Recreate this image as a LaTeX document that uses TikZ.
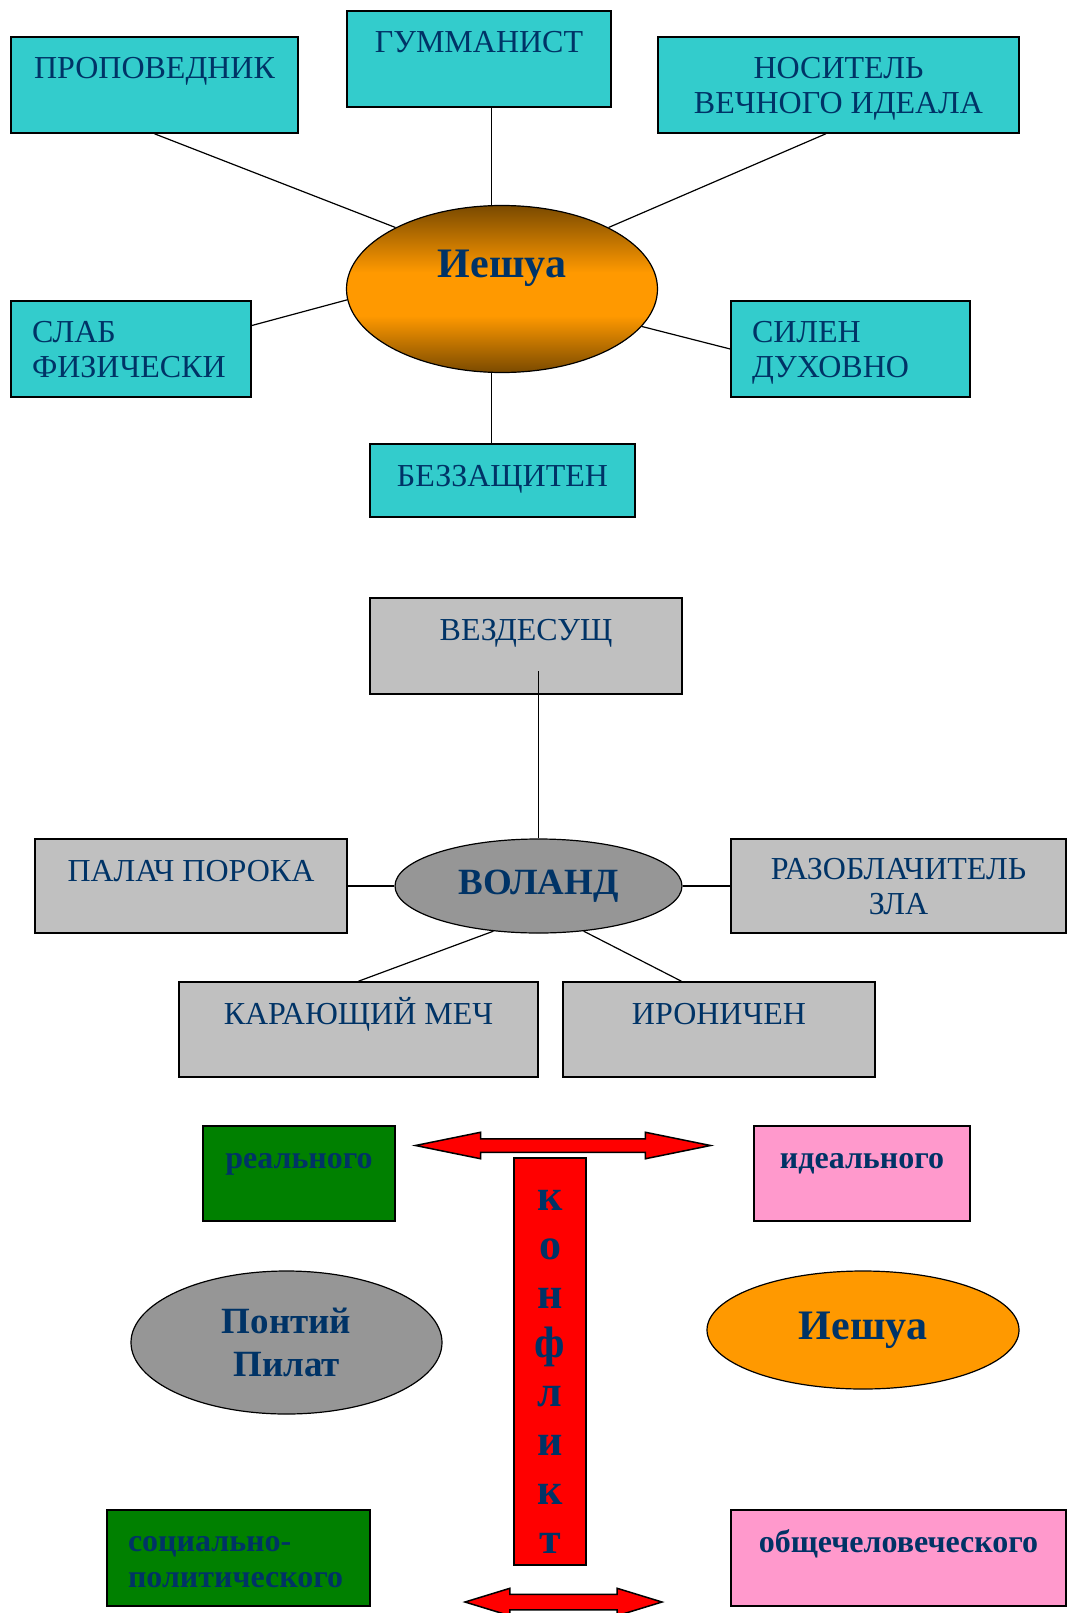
\documentclass[tikz,border=0pt]{standalone}
\usepackage{fontspec}
\setmainfont{Liberation Serif}
\definecolor{ink}{RGB}{0,51,102}
\definecolor{tealfill}{RGB}{51,204,204}
\definecolor{greybox}{RGB}{192,192,192}
\definecolor{greyoval}{RGB}{150,150,150}
\definecolor{sunorange}{RGB}{255,153,0}
\definecolor{sunbrown}{RGB}{122,74,0}
\definecolor{leafgreen}{RGB}{0,128,0}
\definecolor{rosepink}{RGB}{255,153,204}
\usetikzlibrary{calc, shapes.geometric, shapes.arrows}
\pgfdeclareverticalshading{sunband}{100bp}{color(0bp)=(sunbrown); color(25bp)=(sunbrown);
  color(42bp)=(sunorange); color(55bp)=(sunorange); color(75bp)=(sunbrown); color(100bp)=(sunbrown)}
\tikzset{
  card/.style={draw, line width=1.6pt, fill=#1, text=ink, inner sep=0pt, align=center,
    font=\fontsize{32}{35}\selectfont},
  boldcard/.style={card=#1, font=\bfseries\fontsize{32}{36}\selectfont},
  oneline/.style={text height=42pt, text depth=#1},
  leftcard/.style={align=left, text width=#1},
  oval/.style={draw, ellipse, line width=1.2pt, fill=#1, text=ink, inner sep=0pt, align=center,
    font=\bfseries\fontsize{37}{43}\selectfont},
  spoke/.style={line width=1.2pt},
  clash/.style={double arrow, draw, line width=1.5pt, fill=red, inner xsep=0pt}
}

\begin{document}
\begin{tikzpicture}[x=1pt, y=-1pt]
  \useasboundingbox (0,0) rectangle (1067,1613);

  % --- Иешуа
  \node[oval=sunorange, shade, shading=sunband,
    minimum width=311pt, minimum height=167pt, font=\bfseries\fontsize{42}{48}\selectfont,
    text height=30pt, text depth=54pt] (yesh) at (502,289) {Иешуа};
  \node[card=tealfill, oneline=54pt, minimum width=287pt] (prop) at (154.5,85) {ПРОПОВЕДНИК};
  \node[card=tealfill, oneline=54pt, minimum width=264pt] (gum) at (479,59) {ГУММАНИСТ};
  \node[card=tealfill, minimum width=361pt, minimum height=96pt, text depth=0pt] (nos) at (838.5,85) {НОСИТЕЛЬ\\ВЕЧНОГО ИДЕАЛА};
  \node[card=tealfill, leftcard=198pt, inner xsep=21pt, minimum height=96pt, text depth=35pt] (weak) at (131,349) {СЛАБ\\ФИЗИЧЕСКИ};
  \node[card=tealfill, leftcard=197pt, inner xsep=21pt, minimum height=96pt, text depth=35pt] (strong) at (850.5,349) {СИЛЕН\\ДУХОВНО};
  \node[card=tealfill, oneline=31pt, minimum width=265pt] (bez) at (502.5,480.5) {БЕЗЗАЩИТЕН};
  \draw[spoke] (prop.south) -- (yesh.150);
  \draw[spoke] (yesh.97) -- (yesh.97 |- gum.south);
  \draw[spoke] ($(nos.south west)!0.465!(nos.south east)$) -- (yesh.30);
  \draw[spoke] (weak.11) -- (yesh.184);
  \draw[spoke] (strong.west) -- (yesh.-15);
  \draw[spoke] (yesh.263) -- (yesh.263 |- bez.north);

  % --- Воланд
  \node[oval=greyoval, minimum width=287pt, minimum height=94pt] (vol) at (538.5,886) {ВОЛАНД};
  \node[card=greybox, oneline=54pt, minimum width=312pt] (vez) at (526,646) {ВЕЗДЕСУЩ};
  \node[card=greybox, oneline=52pt, minimum width=312pt] (pal) at (191,886) {ПАЛАЧ ПОРОКА};
  \node[card=greybox, minimum width=335pt, minimum height=94pt, text depth=0pt] (razo) at (898.5,886) {РАЗОБЛАЧИТЕЛЬ\\ЗЛА};
  \node[card=greybox, oneline=53pt, minimum width=359pt] (mech) at (358.5,1029.5) {КАРАЮЩИЙ МЕЧ};
  \node[card=greybox, oneline=53pt, minimum width=312pt] (iron) at (719,1029.5) {ИРОНИЧЕН};
  \draw[spoke] (vol.north) -- ($(vez.south -| vol.north)+(0,-24)$);
  \draw[spoke] (pal.east) -- (vol.west);
  \draw[spoke] (vol.east) -- (razo.west);
  \draw[spoke] (vol.-135) -- (mech.north);
  \draw[spoke] (vol.-45) -- ($(iron.north west)!0.38!(iron.north east)$);

  % --- конфликт
  \node[boldcard=leafgreen, oneline=53pt, minimum width=192pt] (real) at (299,1173.5) {реального};
  \node[boldcard=rosepink, oneline=53pt, minimum width=216pt] (ideal) at (862,1173.5) {идеального};
  \node[clash, minimum height=295pt, inner ysep=6pt, double arrow head extend=6.5pt,
    double arrow tip angle=23] (up) at (563,1145.5) {};
  \node[boldcard=red, minimum width=72pt, minimum height=407pt,
    font=\bfseries\fontsize{44}{49}\selectfont] (konf) at (550,1361.5) {\rule{0pt}{41pt}к\\о\\н\\ф\\л\\и\\к\\т};
  \node[oval=greyoval, minimum width=311pt, minimum height=143pt] (pil) at (286.5,1342.5) {Понтий\\Пилат};
  \node[oval=sunorange, minimum width=312pt, minimum height=118pt,
    font=\bfseries\fontsize{42}{48}\selectfont] (yesh2) at (863,1330) {Иешуа};
  \node[boldcard=leafgreen, leftcard=221pt, inner xsep=21pt, minimum height=96pt, text depth=28pt] (soc) at (238.5,1558) {социально-\\политического};
  \node[boldcard=rosepink, oneline=54pt, minimum width=335pt] (obsh) at (898.5,1558) {общечеловеческого};
  \node[clash, minimum height=197pt, inner ysep=7pt, double arrow head extend=6pt,
    double arrow tip angle=34] (down) at (563.5,1602) {};
\end{tikzpicture}
\end{document}
